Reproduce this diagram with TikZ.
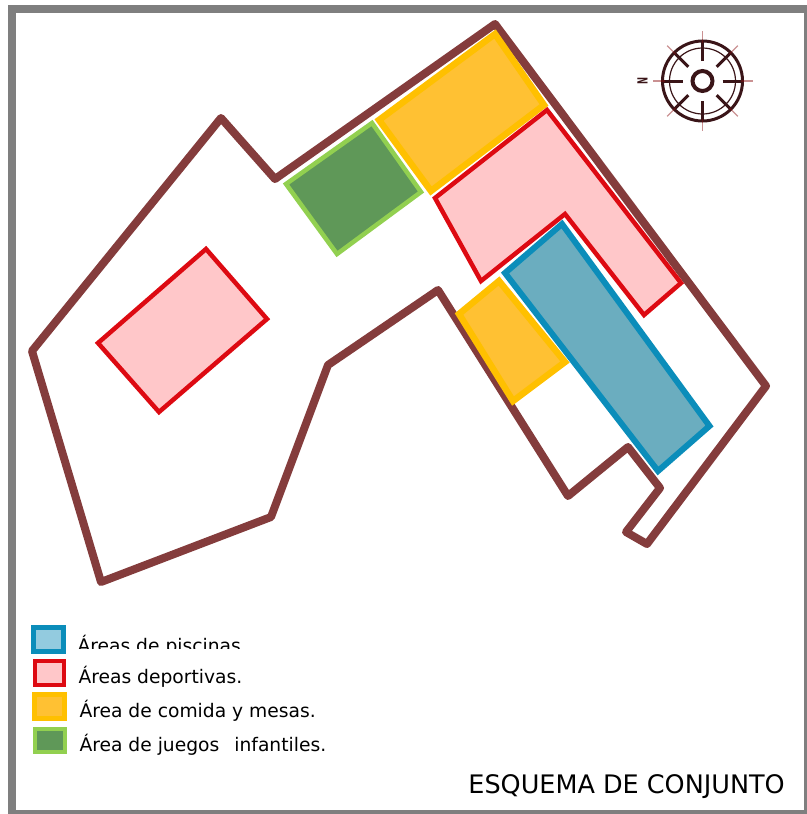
\documentclass[tikz,border=0pt]{standalone}
\usepackage{fontspec}
\setmainfont{DejaVu Sans}
\definecolor{wallc}{HTML}{843C3C}
\definecolor{framec}{HTML}{7F7F7F}
\definecolor{poolc}{HTML}{0B8DBA}
\definecolor{poolf}{HTML}{6BADBF}
\definecolor{poolk}{HTML}{93CBDF}
\definecolor{sportc}{HTML}{DD0A12}
\definecolor{sportf}{HTML}{FFC7C9}
\definecolor{foodc}{HTML}{FFC000}
\definecolor{foodf}{HTML}{FFC133}
\definecolor{playc}{HTML}{92D050}
\definecolor{playf}{HTML}{5F9858}
\definecolor{compassc}{HTML}{3A1518}
\tikzset{
    zone/.style={line join=miter},
    poolzone/.style={zone,line width=6pt,draw=poolc,fill=poolf},
    sportzone/.style={zone,line width=4.5pt,draw=sportc,fill=sportf},
    foodzone/.style={zone,line width=6.5pt,draw=foodc,fill=foodf},
    playzone/.style={zone,line width=4.5pt,draw=playc,fill=playf},
    legendbox/.style={minimum width=29.5pt,minimum height=23.6pt,inner sep=0pt,anchor=center},
    legendtext/.style={anchor=base west,inner sep=0pt,font=\fontsize{18.7}{22}\selectfont}
}
\begin{document}
\begin{tikzpicture}[x=1pt,y=-1pt]
\useasboundingbox (0,0) rectangle (806,814);

% frame
\draw[framec,line width=8pt] (12.3,9) rectangle (808,813.5);

% site outline
\draw[wallc,line width=8pt,line join=round] (221,118) -- (275,179) -- (495,24) -- (766,386) -- (647,544) -- (626,532) -- (660,488) -- (628,447) -- (568,496) -- (438,290) -- (328,365) -- (271,517) -- (101,582) -- (32,351) -- cycle;

% zones
\draw[foodzone] (495,34) -- (544,105) -- (431,191) -- (379,120) -- cycle;
\draw[foodzone] (499,281) -- (565,362) -- (513,401) -- (459,314) -- cycle;
\draw[playzone] (372,123) -- (421,192) -- (337,254) -- (286,184) -- cycle;
\draw[sportzone] (206,249) -- (267,319) -- (159,412) -- (98,343) -- cycle;
\draw[sportzone] (547,110) -- (681,283) -- (644,315) -- (565,214) -- (481,281) -- (435,198) -- cycle;
\draw[poolzone] (562,224) -- (709.5,426) -- (658,471) -- (505,273) -- cycle;

% compass
\begin{scope}[compassc]
    \draw[line width=3pt] (702.5,81) circle (40);
    \draw[line width=1.2pt] (702.5,81) circle (33);
    \draw[line width=4pt] (702.5,81) circle (10);
    \foreach \ang in {0,45,...,315}{
        \draw[line width=3pt] (\ang:20)++(702.5,81) -- ++(\ang:20);
        \draw[red!40!compassc,opacity=0.45,line width=1.2pt] (\ang:38)++(702.5,81) -- ++(\ang:12);
    }
    \node[rotate=90,xscale=0.6,transform shape,inner sep=0pt,font=\bfseries\fontsize{14}{14}\selectfont] (north) at (642.5,81) {N};
\end{scope}

% legend
\node[legendbox,line width=5pt,draw=poolc,fill=poolk] (poolkey) at (48.3,639.3) {};
\node[legendbox,line width=4pt,draw=sportc,fill=sportf] (sportkey) at (49.6,673) {};
\node[legendbox,line width=5pt,draw=foodc,fill=foodf] (foodkey) at (49.5,706.7) {};
\node[legendbox,line width=4pt,draw=playc,fill=playf] (playkey) at (49.8,740.5) {};

\begin{scope}
    \clip (70,620) rectangle (300,648.5);
    \node[legendtext] (pooltext) at (77.3,652) {Áreas de piscinas.};
\end{scope}
\node[legendtext] (sporttext) at (78.3,683) {Áreas deportivas.};
\node[legendtext] (foodtext) at (79.3,717.5) {Área de comida y mesas.};
\node[legendtext] (playtext) at (79.3,751.5) {Área de juegos\hspace{15pt}infantiles.};
\node[anchor=base east,inner sep=0pt,font=\fontsize{25.5}{30}\selectfont] (title) at (785,793.3) {ESQUEMA DE CONJUNTO};
\end{tikzpicture}
\end{document}
